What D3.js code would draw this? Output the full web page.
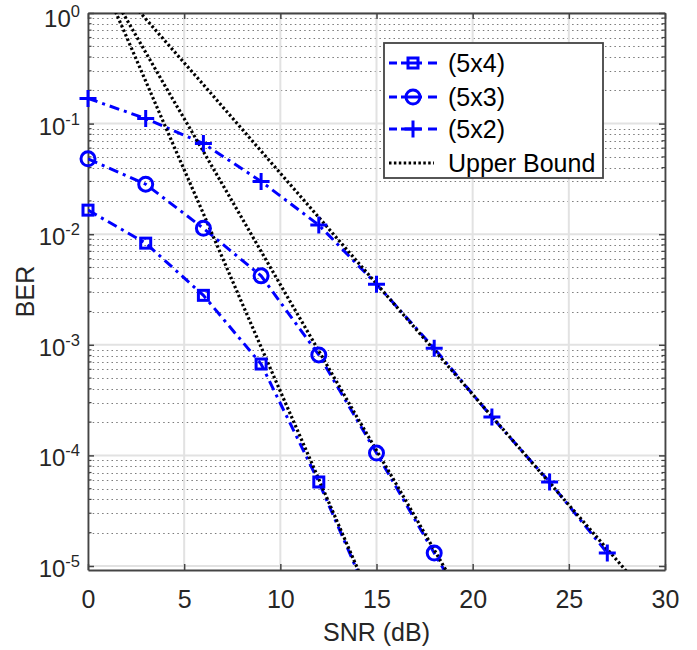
<!DOCTYPE html>
<html>
<head>
<meta charset="utf-8">
<script src="https://cdn.jsdelivr.net/npm/d3@7"></script>
<style>
  body { margin: 0; background: #fff; }
  text { font-family: "Liberation Sans", Arial, sans-serif; }
</style>
</head>
<body>
<div id="chart"></div>
<script>
// simulated BER per antenna setup
var snr5x4 = [0, 3, 6, 9, 12, 15];
var ber5x4 = [0.0165, 0.0083, 0.0028, 6.7e-4, 5.75e-5, 3.6e-6];
var snr5x3 = [0, 3, 6, 9, 12, 15, 18, 21];
var ber5x3 = [0.048, 0.0283, 0.0113, 0.0042, 8.1e-4, 1.05e-4, 1.31e-5, 1.7e-6];
var snr5x2 = [0, 3, 6, 9, 12, 15, 18, 21, 24, 27];
var ber5x2 = [0.169, 0.111, 0.066, 0.030, 0.0121, 0.00353, 9.3e-4, 2.22e-4, 5.75e-5, 1.31e-5];

// upper bound curves
var snrBound = [0, 2, 4, 6, 8, 10, 12, 14, 16, 18, 20, 22, 24, 26, 28, 30];
var bound5x4 = [3.8, 0.61, 0.096, 0.0153, 0.0024, 3.8e-4, 6.1e-5, 9.6e-6, 1.5e-6];
var bound5x3 = [3.5, 0.88, 0.22, 0.056, 0.014, 0.0035, 8.8e-4, 2.2e-4, 5.6e-5, 1.4e-5, 3.5e-6];
var bound5x2 = [3.6, 1.4, 0.56, 0.225, 0.0895, 0.0356, 0.0142, 0.00565, 0.00225, 8.95e-4,
                3.56e-4, 1.42e-4, 5.65e-5, 2.25e-5, 8.95e-6, 3.56e-6];

var xTicks = [0, 5, 10, 15, 20, 25, 30];
var yTicks = [1e-5, 1e-4, 1e-3, 1e-2, 1e-1, 1];
var legendLabels = ["(5x4)", "(5x3)", "(5x2)", "Upper Bound"];

var width = 697, height = 650;
var margin = {left: 88, right: 32, top: 13, bottom: 80};
var w = width - margin.left - margin.right;
var h = height - margin.top - margin.bottom;

var blue = "#0000ff";
var axisColor = "#262626";
var lw = 3;

var svg = d3.select("#chart").append("svg")
    .attr("width", width)
    .attr("height", height);

var x = d3.scaleLinear().domain([0, 30]).range([0, w]);
var y = d3.scaleLog().domain([9.2e-6, 1]).range([h, 0]);

var g = svg.append("g")
    .attr("transform", "translate(" + margin.left + "," + margin.top + ")");

svg.append("defs").append("clipPath").attr("id", "plotclip")
    .append("rect").attr("width", w).attr("height", h);

// minor grid, dotted
var minorTicks = [];
for (var e = -6; e <= 0; e++) {
    for (var m = 2; m <= 9; m++) {
        var v = m * Math.pow(10, e);
        if (v > y.domain()[0] && v < 1) minorTicks.push(v);
    }
}
g.append("g").selectAll("line").data(minorTicks).enter().append("line")
    .attr("x1", 0).attr("x2", w)
    .attr("y1", function(d) { return Math.round(y(d)) + 0.5; })
    .attr("y2", function(d) { return Math.round(y(d)) + 0.5; })
    .attr("stroke", "#7a7a7a")
    .attr("stroke-width", 1.2)
    .attr("stroke-dasharray", "1.5,3.2");

// major grid
g.append("g").selectAll("line").data(xTicks).enter().append("line")
    .attr("x1", function(d) { return x(d); }).attr("x2", function(d) { return x(d); })
    .attr("y1", 0).attr("y2", h)
    .attr("stroke", "#e2e2e2").attr("stroke-width", 2);
g.append("g").selectAll("line").data(yTicks).enter().append("line")
    .attr("x1", 0).attr("x2", w)
    .attr("y1", function(d) { return y(d); }).attr("y2", function(d) { return y(d); })
    .attr("stroke", "#e2e2e2").attr("stroke-width", 2);

// axes (ticks inward, mirrored on the box)
var xAxisB = d3.axisBottom(x).tickValues(xTicks).tickSizeInner(-6).tickSizeOuter(0).tickPadding(20);
var xAxisT = d3.axisTop(x).tickValues(xTicks).tickSizeInner(-6).tickSizeOuter(0).tickFormat("");
var yAxisL = d3.axisLeft(y).tickValues(yTicks).tickSizeInner(-6).tickSizeOuter(0).tickFormat("");
var yAxisR = d3.axisRight(y).tickValues(yTicks).tickSizeInner(-6).tickSizeOuter(0).tickFormat("");

function styleAxis(sel) {
    sel.select(".domain").attr("stroke", "#444").attr("stroke-width", 1.8);
    sel.selectAll(".tick line").attr("stroke", "#444").attr("stroke-width", 1.5);
}

var gxb = g.append("g").attr("transform", "translate(0," + h + ")").call(xAxisB);
gxb.selectAll("text").attr("font-size", 25).attr("fill", axisColor)
    .attr("font-family", "Liberation Sans, Arial, sans-serif");
styleAxis(gxb);
styleAxis(g.append("g").call(xAxisT));
styleAxis(g.append("g").call(yAxisL));
styleAxis(g.append("g").attr("transform", "translate(" + w + ",0)").call(yAxisR));

// minor ticks on the log axis
[0, w].forEach(function(xp) {
    var dir = xp === 0 ? 1 : -1;
    g.append("g").selectAll("line").data(minorTicks).enter().append("line")
        .attr("x1", xp).attr("x2", xp + dir * 3.5)
        .attr("y1", function(d) { return y(d); }).attr("y2", function(d) { return y(d); })
        .attr("stroke", "#444").attr("stroke-width", 1.2);
});

// y tick labels as 10^n
var ylab = g.append("g").selectAll("text").data(yTicks).enter().append("text")
    .attr("x", -8)
    .attr("y", function(d) { return d === 1 ? y(d) + 14 : y(d) + 11; })
    .attr("text-anchor", "end")
    .attr("fill", axisColor)
    .attr("font-size", 24);
ylab.append("tspan").text("10");
ylab.append("tspan").attr("dy", -10).attr("font-size", 16.5)
    .text(function(d) { return Math.round(Math.log10(d)); });

// axis titles
svg.append("text")
    .attr("x", margin.left + w / 2).attr("y", 641)
    .attr("text-anchor", "middle").attr("font-size", 25).attr("fill", axisColor)
    .text("SNR (dB)");
svg.append("text")
    .attr("text-anchor", "middle").attr("font-size", 25).attr("fill", axisColor)
    .attr("transform", "translate(34," + (margin.top + h / 2) + ")rotate(-90)")
    .text("BER");

// data
var line = d3.line()
    .x(function(d) { return x(d[0]); })
    .y(function(d) { return y(d[1]); });

var plot = g.append("g").attr("clip-path", "url(#plotclip)");

var series = [
    {snr: snr5x4, ber: ber5x4, marker: "square"},
    {snr: snr5x3, ber: ber5x3, marker: "circle"},
    {snr: snr5x2, ber: ber5x2, marker: "plus"}
];

var dashDot = "10,5,3,5";

series.forEach(function(s) {
    var pts = s.snr.map(function(v, i) { return [v, s.ber[i]]; });
    plot.append("path")
        .attr("d", line(pts))
        .attr("fill", "none")
        .attr("stroke", blue)
        .attr("stroke-width", lw)
        .attr("stroke-dasharray", dashDot);
});

var bounds = [bound5x4, bound5x3, bound5x2];
bounds.forEach(function(b) {
    var pts = b.map(function(v, i) { return [snrBound[i], v]; });
    plot.append("path")
        .attr("d", line(pts))
        .attr("fill", "none")
        .attr("stroke", "#000")
        .attr("stroke-width", 3.2)
        .attr("stroke-dasharray", "2.5,2.4");
});

function drawMarker(sel, type, cx, cy) {
    if (type === "square") {
        sel.append("rect").attr("x", cx - 5).attr("y", cy - 5)
            .attr("width", 10).attr("height", 10)
            .attr("fill", "none").attr("stroke", blue).attr("stroke-width", lw);
    } else if (type === "circle") {
        sel.append("circle").attr("cx", cx).attr("cy", cy).attr("r", 7)
            .attr("fill", "none").attr("stroke", blue).attr("stroke-width", lw);
    } else {
        sel.append("path")
            .attr("d", "M" + (cx - 8.5) + "," + cy + "H" + (cx + 8.5) + "M" + cx + "," + (cy - 8.5) + "V" + (cy + 8.5))
            .attr("stroke", blue).attr("stroke-width", lw);
    }
}

var markers = g.append("g");
series.forEach(function(s) {
    s.snr.forEach(function(v, i) {
        if (s.ber[i] < y.domain()[0]) return;
        drawMarker(markers, s.marker, x(v), y(s.ber[i]));
    });
});

// legend
var lg = svg.append("g").attr("transform", "translate(384,43)");
lg.append("rect").attr("width", 219).attr("height", 135)
    .attr("fill", "#fff").attr("stroke", "#444").attr("stroke-width", 1.8);

var rowY = [20, 54, 86, 120];
legendLabels.forEach(function(lab, i) {
    var ry = rowY[i];
    if (i < 3) {
        lg.append("path").attr("d", "M5," + ry + "H53")
            .attr("stroke", blue).attr("stroke-width", lw)
            .attr("stroke-dasharray", "8,4,21,6,9");
        drawMarker(lg, series[i].marker, 29, ry);
    } else {
        lg.append("path").attr("d", "M5," + ry + "H50")
            .attr("stroke", "#000").attr("stroke-width", 3.2)
            .attr("stroke-dasharray", "2.5,2.4");
    }
    lg.append("text").attr("x", 64).attr("y", ry + 9)
        .attr("font-size", 25).attr("fill", "#000")
        .text(lab);
});
</script>
</body>
</html>
